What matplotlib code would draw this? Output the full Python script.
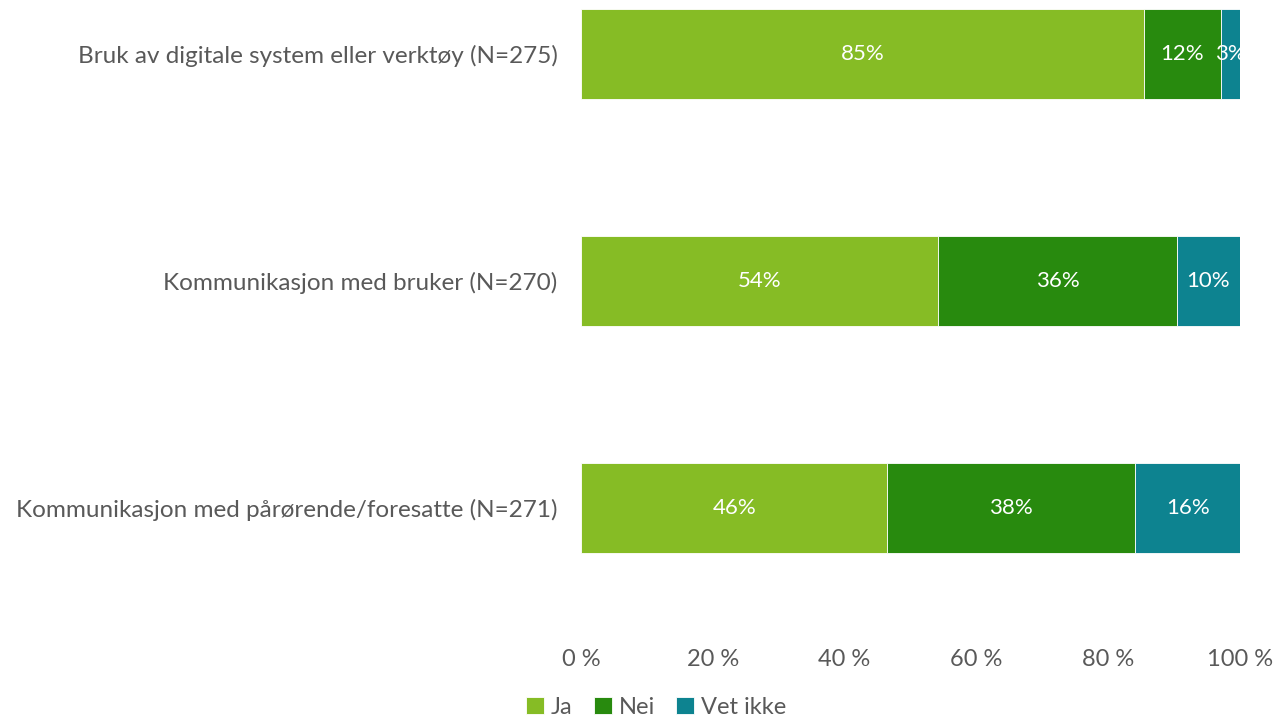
import matplotlib.pyplot as plt
import numpy as np

# Data
kategorier = ["Bruk av digitale system eller verktøy (N=275)",
              "Kommunikasjon med bruker (N=270)",
              "Kommunikasjon med pårørende/foresatte (N=271)"]
serier = ["Ja", "Nei", "Vet ikke"]
ja = [85.4, 54.2, 46.5]
nei = [11.7, 36.2, 37.6]
vet_ikke = [2.9, 9.6, 15.9]
farger = ["#86BC25", "#288A0E", "#0D8390"]

plt.rcParams['font.family'] = ['Lato', 'DejaVu Sans']
grå = "#595959"

fig = plt.figure(figsize=(12.76, 7.2), dpi=100)
ax = fig.add_axes([581 / 1276, 100 / 720, 659 / 1276, 620 / 720])

y = np.arange(len(kategorier))
venstre = np.zeros(len(kategorier))
for navn, verdier, farge in zip(serier, [ja, nei, vet_ikke], farger):
    verdier = np.array(verdier)
    ax.barh(y, verdier, left=venstre, height=0.4, color=farge, label=navn,
            edgecolor="white", linewidth=0.6)
    for yi, v, l in zip(y, verdier, venstre):
        ax.text(l + v / 2, yi, f"{round(v)}%", ha="center", va="center",
                color="white", fontsize=16)
    venstre += verdier

ax.set_xlim(0, 100)
ax.set_ylim(2.493, -0.238)
ax.set_yticks(y)
ax.set_yticklabels(kategorier, fontsize=17.5, color=grå)
ax.set_xticks(np.arange(0, 101, 20))
ax.set_xticklabels([f"{t} %" for t in range(0, 101, 20)], fontsize=17,
                   color=grå)
ax.tick_params(axis="y", length=0, pad=17)
ax.tick_params(axis="x", length=0, pad=21)
for s in ax.spines.values():
    s.set_visible(False)

ax.legend(loc="upper left", bbox_to_anchor=(-76 / 659, -0.09), ncol=3,
          frameon=False, handlelength=0.75, handleheight=0.75,
          handletextpad=0.3, columnspacing=0.9, labelcolor=grå,
          prop={"size": 17})

fig.savefig("out.png", dpi=100)
